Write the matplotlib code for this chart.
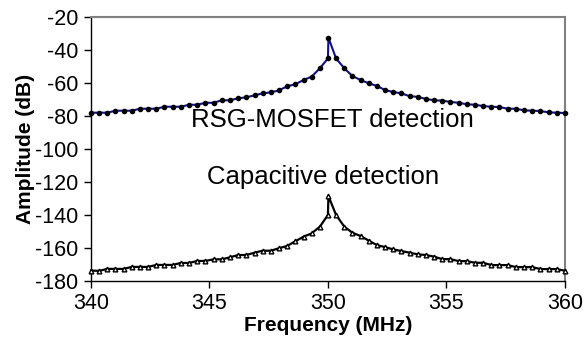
import matplotlib.pyplot as plt

plt.rcParams['font.family'] = ['Liberation Sans', 'DejaVu Sans']
plt.rcParams['axes.unicode_minus'] = False

# frequency sweep (MHz), with the peak sample next to 350
freq = [340.00, 340.34, 340.69, 341.03, 341.38, 341.72, 342.07, 342.41, 342.76, 343.10,
        343.45, 343.79, 344.14, 344.48, 344.83, 345.17, 345.52, 345.86, 346.21, 346.55,
        346.90, 347.24, 347.59, 347.93, 348.28, 348.62, 348.97, 349.31, 349.66, 350.00,
        350.02,
        350.34, 350.69, 351.03, 351.38, 351.72, 352.07, 352.41, 352.76, 353.10, 353.45,
        353.79, 354.14, 354.48, 354.83, 355.17, 355.52, 355.86, 356.21, 356.55, 356.90,
        357.24, 357.59, 357.93, 358.28, 358.62, 358.97, 359.31, 359.66, 360.00]

# RSG-MOSFET detection (dB)
rsg = [-78.1, -78.1, -78.1, -76.9, -76.9, -76.9, -75.7, -75.7, -75.7, -74.5,
       -74.5, -74.5, -73.3, -73.3, -72.1, -72.1, -70.6, -70.6, -69.4, -68.8,
       -67.6, -66.4, -65.8, -64.6, -62.1, -60.9, -58.3, -56.3, -51.2, -45.2,
       -32.6,
       -45.2, -51.2, -55.9, -58.3, -60.3, -61.9, -64.4, -65.6, -66.4, -68.1,
       -68.5, -69.8, -70.6, -70.8, -71.6, -72.1, -73.0, -73.3, -74.1, -74.5,
       -74.7, -75.7, -75.7, -76.7, -76.9, -77.1, -77.9, -78.1, -78.3]

# Capacitive detection (dB)
cap = [-173.7, -173.9, -172.7, -172.7, -172.7, -171.5, -171.5, -171.5, -170.3, -170.3,
       -170.3, -169.1, -169.1, -167.9, -167.9, -166.9, -166.9, -165.7, -164.3, -164.3,
       -162.9, -161.7, -161.7, -160.2, -158.8, -156.0, -153.2, -151.2, -147.1, -140.0,
       -128.5,
       -140.0, -147.1, -150.8, -152.8, -155.6, -158.3, -159.5, -160.9, -161.9, -162.9,
       -163.9, -164.3, -165.3, -166.8, -166.8, -168.0, -168.0, -169.0, -169.0, -170.4,
       -170.4, -170.4, -171.6, -171.6, -171.6, -172.8, -172.8, -172.8, -173.8]

fig = plt.figure(figsize=(5.85, 3.49), dpi=100)
ax = fig.add_axes([0.1556, 0.195, 0.81, 0.757])

ax.plot(freq, rsg, color='#10108a', lw=1.5, marker='o', ms=3.0,
        mfc='black', mec='black', clip_on=False, zorder=3)
ax.plot(freq, cap, color='black', lw=1.6, marker='^', ms=3.4,
        mfc='white', mec='black', mew=1.0, clip_on=False, zorder=3)

ax.text(350.2, -82.5, 'RSG-MOSFET detection', ha='center', va='center', fontsize=18.5)
ax.text(349.8, -117, 'Capacitive detection', ha='center', va='center', fontsize=18.5)

ax.set_xlim(340, 360)
ax.set_ylim(-180, -20)
ax.set_xticks([340, 345, 350, 355, 360])
ax.set_yticks(range(-180, 0, 20))
ax.tick_params(direction='out', length=5, width=1, labelsize=15.5, pad=4)
ax.set_xlabel('Frequency (MHz)', fontsize=15, fontweight='bold', labelpad=1)
ax.set_ylabel('Amplitude (dB)', fontsize=15, fontweight='bold', labelpad=0)

for s in ['left', 'bottom']:
    ax.spines[s].set_color('black')
    ax.spines[s].set_linewidth(1.0)
for s in ['top', 'right']:
    ax.spines[s].set_color('#808080')
    ax.spines[s].set_linewidth(1.5)

fig.savefig('out.png', dpi=100)
